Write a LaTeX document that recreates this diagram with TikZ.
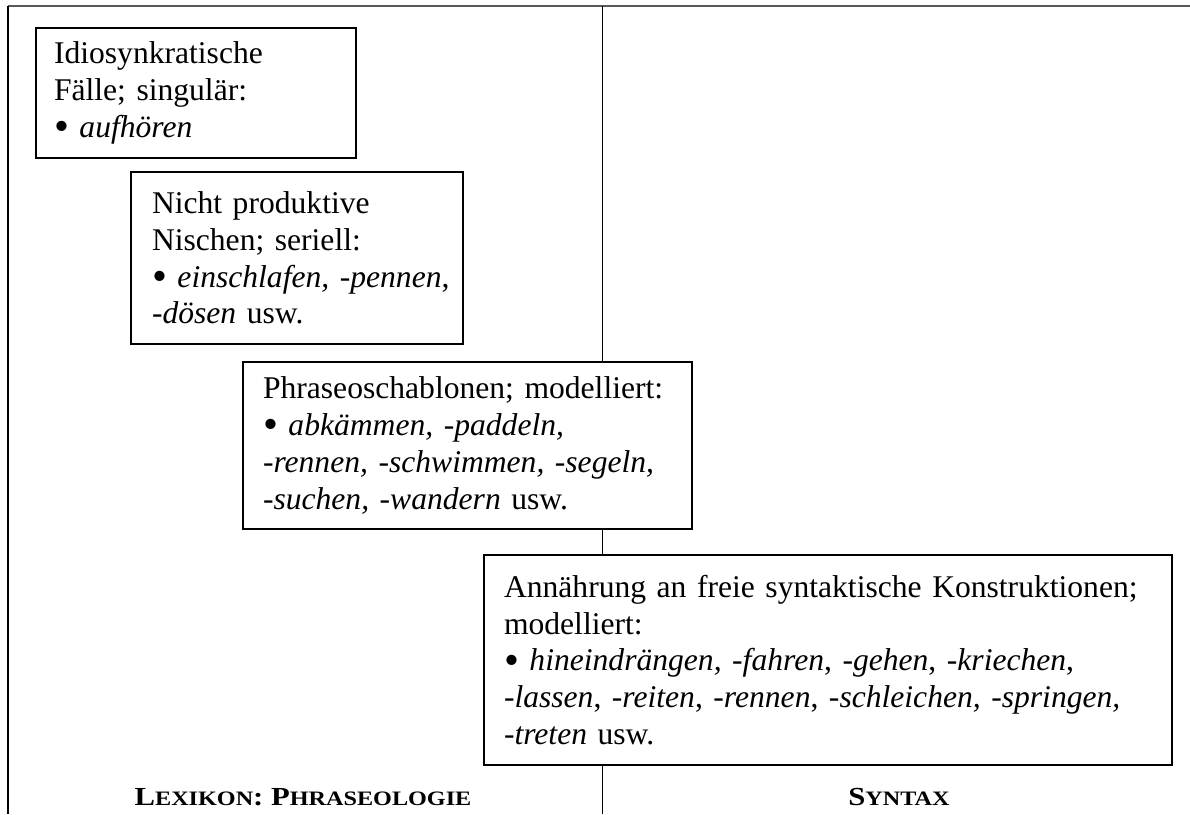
\documentclass[tikz,border=0pt]{standalone}
\usepackage{fontspec}
\usepackage{graphicx}
\setmainfont{Liberation Serif}
\newfontfamily\labfont[FakeStretch=1.18]{Liberation Serif}
\newcommand\bul{\raisebox{-0.1em}{\scalebox{1.35}{•}}}
\begin{document}
\begin{tikzpicture}[x=1pt,y=-1pt,
  every node/.style={font=\fontsize{31.6}{36.7}\selectfont},
  stage/.style={draw=black, line width=2pt, fill=white, align=left, inner xsep=20pt, inner ysep=0pt, anchor=north west},
  divider/.style={line width=1.6pt, draw=black},
  topline/.style={line width=2.2pt, draw=black!65},
  lab/.style={font=\labfont\fontsize{26}{28}\selectfont\bfseries, anchor=base}
]
\useasboundingbox (0,0) rectangle (1190,814);
\coordinate (tl) at (8,6);
\coordinate (tr) at (1190,6);
\coordinate (bl) at (8,814);
\coordinate (mt) at (602.5,6);
\coordinate (mb) at (602.5,814);
\draw[topline] (tl) -- (tr);
\draw[divider] (tl) -- (bl);
\draw[divider] (mt) -- (mb);

\node[stage, inner xsep=18pt, minimum width=320pt, minimum height=130pt, text width=284pt] (b1) at (35,27)
  {Idiosynkratische\\Fälle; singulär:\\\bul{} \textit{aufhören}};
\node[stage, inner xsep=21pt, minimum width=332pt, minimum height=172pt, text width=290pt] (b2) at (130,171)
  {Nicht produktive\\Nischen; seriell:\\\mbox{\bul{} \textit{einschlafen, -pennen},}\\\textit{-dösen} usw.};
\node[stage, minimum width=449pt, minimum height=167pt, text width=409pt] (b3) at (242,361)
  {Phraseoschablonen; modelliert:\\\bul{} \textit{abkämmen, -paddeln,}\\\textit{-rennen, -schwimmen, -segeln,}\\\textit{-suchen, -wandern} usw.};
\node[stage, minimum width=688pt, minimum height=210pt, text width=648pt] (b4) at (483,554)
  {Annährung an freie syntaktische Konstruktionen;\\modelliert:\\\bul{} \textit{hineindrängen, -fahren}, \textit{-gehen}, \textit{-kriechen},\\\textit{-lassen}, \textit{-reiten}, \textit{-rennen}, \textit{-schleichen, -springen,}\\\textit{-treten} usw.};

\node[lab] (lex) at (303,805) {L{\fontsize{20.5}{22}\selectfont EXIKON}: P{\fontsize{20.5}{22}\selectfont HRASEOLOGIE}};
\node[lab] (syn) at (899,805) {S{\fontsize{20.5}{22}\selectfont YNTAX}};
\end{tikzpicture}
\end{document}
